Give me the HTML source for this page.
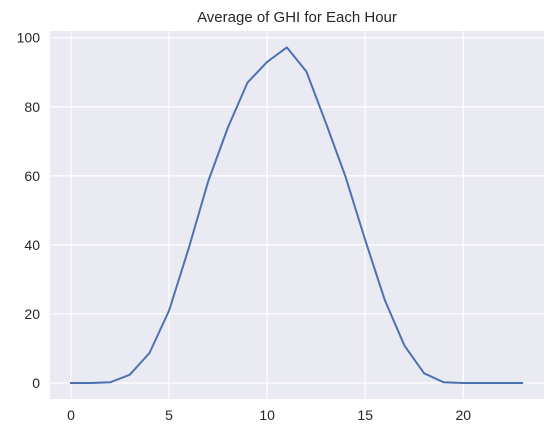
<!DOCTYPE html>
<html><head><meta charset="utf-8"><style>
html,body{margin:0;padding:0;background:#fff;}
svg{display:block;font-family:"Liberation Sans","DejaVu Sans",sans-serif;}
</style></head><body>
<svg id="chart" width="554" height="437" viewBox="0 0 554 437"></svg>
<script>
const hours = [0,1,2,3,4,5,6,7,8,9,10,11,12,13,14,15,16,17,18,19,20,21,22,23];
const ghiValues = [0,0,0.2,2.4,8.7,21,39,58.5,74,87,93,97.2,90.2,75.2,59.7,41.4,24,10.8,2.8,0.2,0,0,0,0];
const xTicks = [0,5,10,15,20];
const yTicks = [0,20,40,60,80,100];
const titleText = "Average of GHI for Each Hour";

const NS = "http://www.w3.org/2000/svg";
const svg = document.getElementById('chart');
const L=50,T=31,R=544,B=399;
const xs = h => 71 + h*(463.3-71)/20;
const ys = v => 383 - v*(383-37.7)/100;
function el(tag, attrs, parent){const e=document.createElementNS(NS,tag);for(const k in attrs)e.setAttribute(k,attrs[k]);(parent||svg).appendChild(e);return e;}

const bg = el('rect',{x:L,y:T,width:R-L,height:B-T,fill:'#eaeaf2'});



xTicks.forEach(t=>{
  const g = el('line',{x1:xs(t),x2:xs(t),y1:T,y2:B,stroke:'#fff','stroke-width':1.2});
  
  
  const lb = el('text',{x:xs(t),y:B+21,'text-anchor':'middle','font-size':14,fill:'#262626'});
  lb.textContent=t;
  
  
});
yTicks.forEach(t=>{
  const g = el('line',{x1:L,x2:R,y1:ys(t),y2:ys(t),stroke:'#fff','stroke-width':1.2});
  
  
  const lb = el('text',{x:L-10,y:ys(t)+5,'text-anchor':'end','font-size':14,fill:'#262626'});
  lb.textContent=t;
  
  
});

const pts = hours.map((h,i)=>xs(h).toFixed(1)+','+ys(ghiValues[i]).toFixed(1)).join(' ');
const line = el('polyline',{points:pts,fill:'none',stroke:'#4c72b0','stroke-width':2,'stroke-linejoin':'round','stroke-linecap':'square'});



const title = el('text',{x:(L+R)/2,y:22,'text-anchor':'middle','font-size':15,fill:'#262626'});
title.textContent=titleText;


</script>
</body></html>
